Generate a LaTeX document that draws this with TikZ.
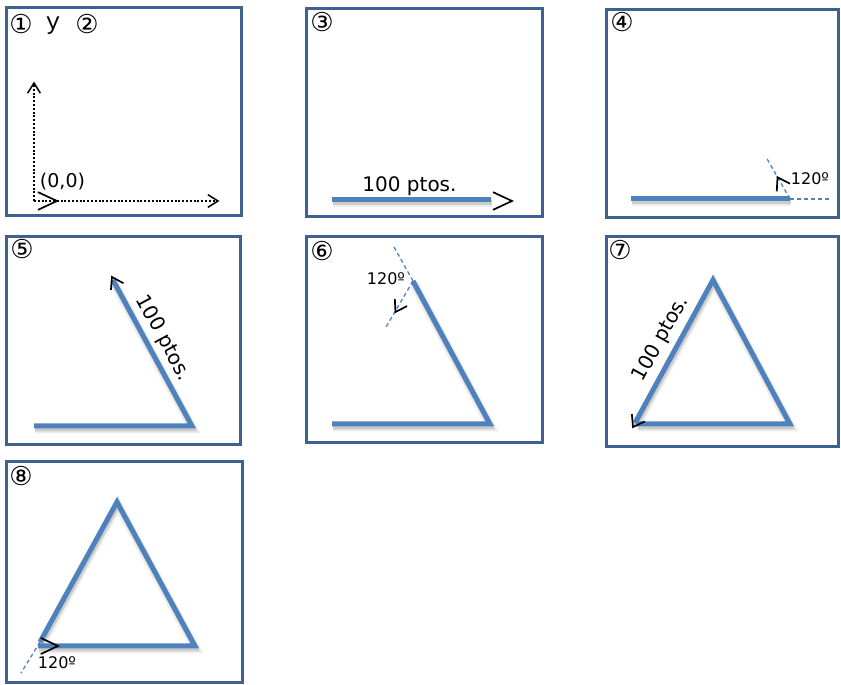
\documentclass[tikz,border=0pt]{standalone}
\usepackage{fontspec}
\setmainfont{DejaVu Sans}
\newfontfamily\monof{Liberation Mono}
\definecolor{framec}{HTML}{3F6190}
\definecolor{turtle}{HTML}{4F81BD}
\newcommand\turtlehead[5][chevron]{\draw[#1] (#2) ++(#3+180-#5:#4) -- (#2) -- ++(#3+180+#5:#4);}
\begin{document}
\begin{tikzpicture}[x=1pt,y=1pt,
 frame/.style={draw=framec, line width=3pt},
 trail/.style={draw=turtle, line width=5pt, line join=miter},
 shadeA/.style={draw=black, opacity=0.07, line width=9pt, transform canvas={shift={(1,-3)}}},
 shadeB/.style={draw=black, opacity=0.14, line width=5pt, transform canvas={shift={(1,-3)}}},
 guide/.style={draw=turtle, line width=1.3pt, dash pattern=on 4pt off 3pt},
 chevron/.style={draw=black, line width=1.7pt, line join=miter},
 axis/.style={draw=black, line width=2.2pt, dash pattern=on 2pt off 1.8pt},
 axhead/.style={draw=black, line width=1.5pt},
 num/.style={font=\fontsize{26}{26}\selectfont, inner sep=0pt},
 lbl/.style={font=\fontsize{20}{20}\selectfont, inner sep=0pt},
 ang/.style={font=\fontsize{16}{16}\selectfont, inner sep=0pt},
]
\useasboundingbox (0,0) rectangle (841,685);
% frames
\draw[frame] (6,469) rectangle (241,677);
\draw[frame] (306,468) rectangle (542,676);
\draw[frame] (606,467) rectangle (838,675);
\draw[frame] (6,240) rectangle (240,448);
\draw[frame] (306,242) rectangle (542,448);
\draw[frame] (606,238) rectangle (838,448);
\draw[frame] (6,2) rectangle (242,223);
% panel numbers
\node[num] (n1) at (21,660.5) {①};
\node[font=\monof\fontsize{24}{24}\selectfont, inner sep=0pt, anchor=base] (ny) at (53,655) {y};
\node[num] (n2) at (87,660.5) {②};
\node[num] (n3) at (322,662.5) {③};
\node[num] (n4) at (622,662.5) {④};
\node[num] (n5) at (22,435.5) {⑤};
\node[num] (n6) at (322,434) {⑥};
\node[num] (n7) at (620,434.5) {⑦};
\node[num] (n8) at (21,209) {⑧};
% panel 1
\coordinate (o1) at (34,484);
\coordinate (yt) at (34,602);
\coordinate (xt) at (218,484);
\coordinate (h1) at (57,484);
\draw[axis] (o1) -- (yt);
\draw[axis] (o1) -- (xt);
\turtlehead[axhead]{yt}{90}{12}{32}
\turtlehead[axhead]{xt}{0}{12}{32}
\turtlehead{h1}{0}{21}{25}
\node[lbl, font=\fontsize{19}{19}\selectfont, anchor=base] (l1) at (62.5,497) {(0,0)};
% panel 3
\coordinate (a3) at (332,485);
\coordinate (b3) at (491,485);
\coordinate (h3) at (512,484);
\draw[shadeA] (a3) -- (b3);
\draw[shadeB] (a3) -- (b3);
\draw[trail] (a3) -- (b3);
\turtlehead{h3}{0}{21}{25}
\node[lbl, anchor=base] (l3) at (409.5,493.3) {100 ptos.};
% panel 4
\coordinate (a4) at (631,486);
\coordinate (b4) at (790,486);
\coordinate (g4a) at (830,486);
\coordinate (g4b) at (766,528);
\coordinate (h4) at (777.5,507.7);
\draw[shadeA] (a4) -- (b4);
\draw[shadeB] (a4) -- (b4);
\draw[trail] (a4) -- (b4);
\draw[guide] (b4) -- (g4a);
\draw[guide] (b4) -- (g4b);
\turtlehead{h4}{120}{14}{33}
\node[ang, anchor=base] (l4) at (810,500) {120º};
% panel 5
\coordinate (a5) at (34,259);
\coordinate (b5) at (192,259);
\coordinate (c5) at (113,405);
\coordinate (h5) at (112,408);
\draw[shadeA] (a5) -- (b5) -- (c5);
\draw[shadeB] (a5) -- (b5) -- (c5);
\draw[trail] (a5) -- (b5) -- (c5);
\turtlehead{h5}{118.4}{13}{33}
\node[lbl, rotate=-61.6] (l5) at (163,347) {100 ptos.};
% panel 6
\coordinate (a6) at (332,261);
\coordinate (b6) at (490,261);
\coordinate (c6) at (413,404);
\coordinate (g6a) at (394,438);
\coordinate (g6b) at (386,358);
\coordinate (h6) at (395.5,373);
\draw[shadeA] (a6) -- (b6) -- (c6);
\draw[shadeB] (a6) -- (b6) -- (c6);
\draw[trail] (a6) -- (b6) -- (c6);
\draw[guide] (c6) -- (g6a);
\draw[guide] (c6) -- (g6b);
\turtlehead{h6}{240}{13}{33}
\node[ang, anchor=base] (l6) at (386,400) {120º};
% panel 7
\coordinate (a7) at (637,261);
\coordinate (b7) at (790,261);
\coordinate (c7) at (713,405);
\coordinate (d7) at (635,262);
\coordinate (h7) at (633,258);
\draw[shadeA] (a7) -- (b7) -- (c7) -- (d7);
\draw[shadeB] (a7) -- (b7) -- (c7) -- (d7);
\draw[trail] (a7) -- (b7) -- (c7) -- (d7);
\turtlehead{h7}{240}{13}{35}
\node[lbl, rotate=61] (l7) at (661,346) {100 ptos.};
% panel 8
\coordinate (a8) at (38,39);
\coordinate (b8) at (195,39);
\coordinate (c8) at (117,183);
\coordinate (d8) at (40,43);
\coordinate (g8) at (21,12);
\coordinate (h8) at (58,39);
\draw[shadeA] (a8) -- (b8) -- (c8) -- (d8);
\draw[shadeB] (a8) -- (b8) -- (c8) -- (d8);
\draw[trail] (a8) -- (b8) -- (c8) -- (d8);
\draw[guide] (d8) -- (g8);
\turtlehead{h8}{0}{19}{25}
\node[ang, anchor=base] (l8) at (57,16) {120º};
\end{tikzpicture}
\end{document}
